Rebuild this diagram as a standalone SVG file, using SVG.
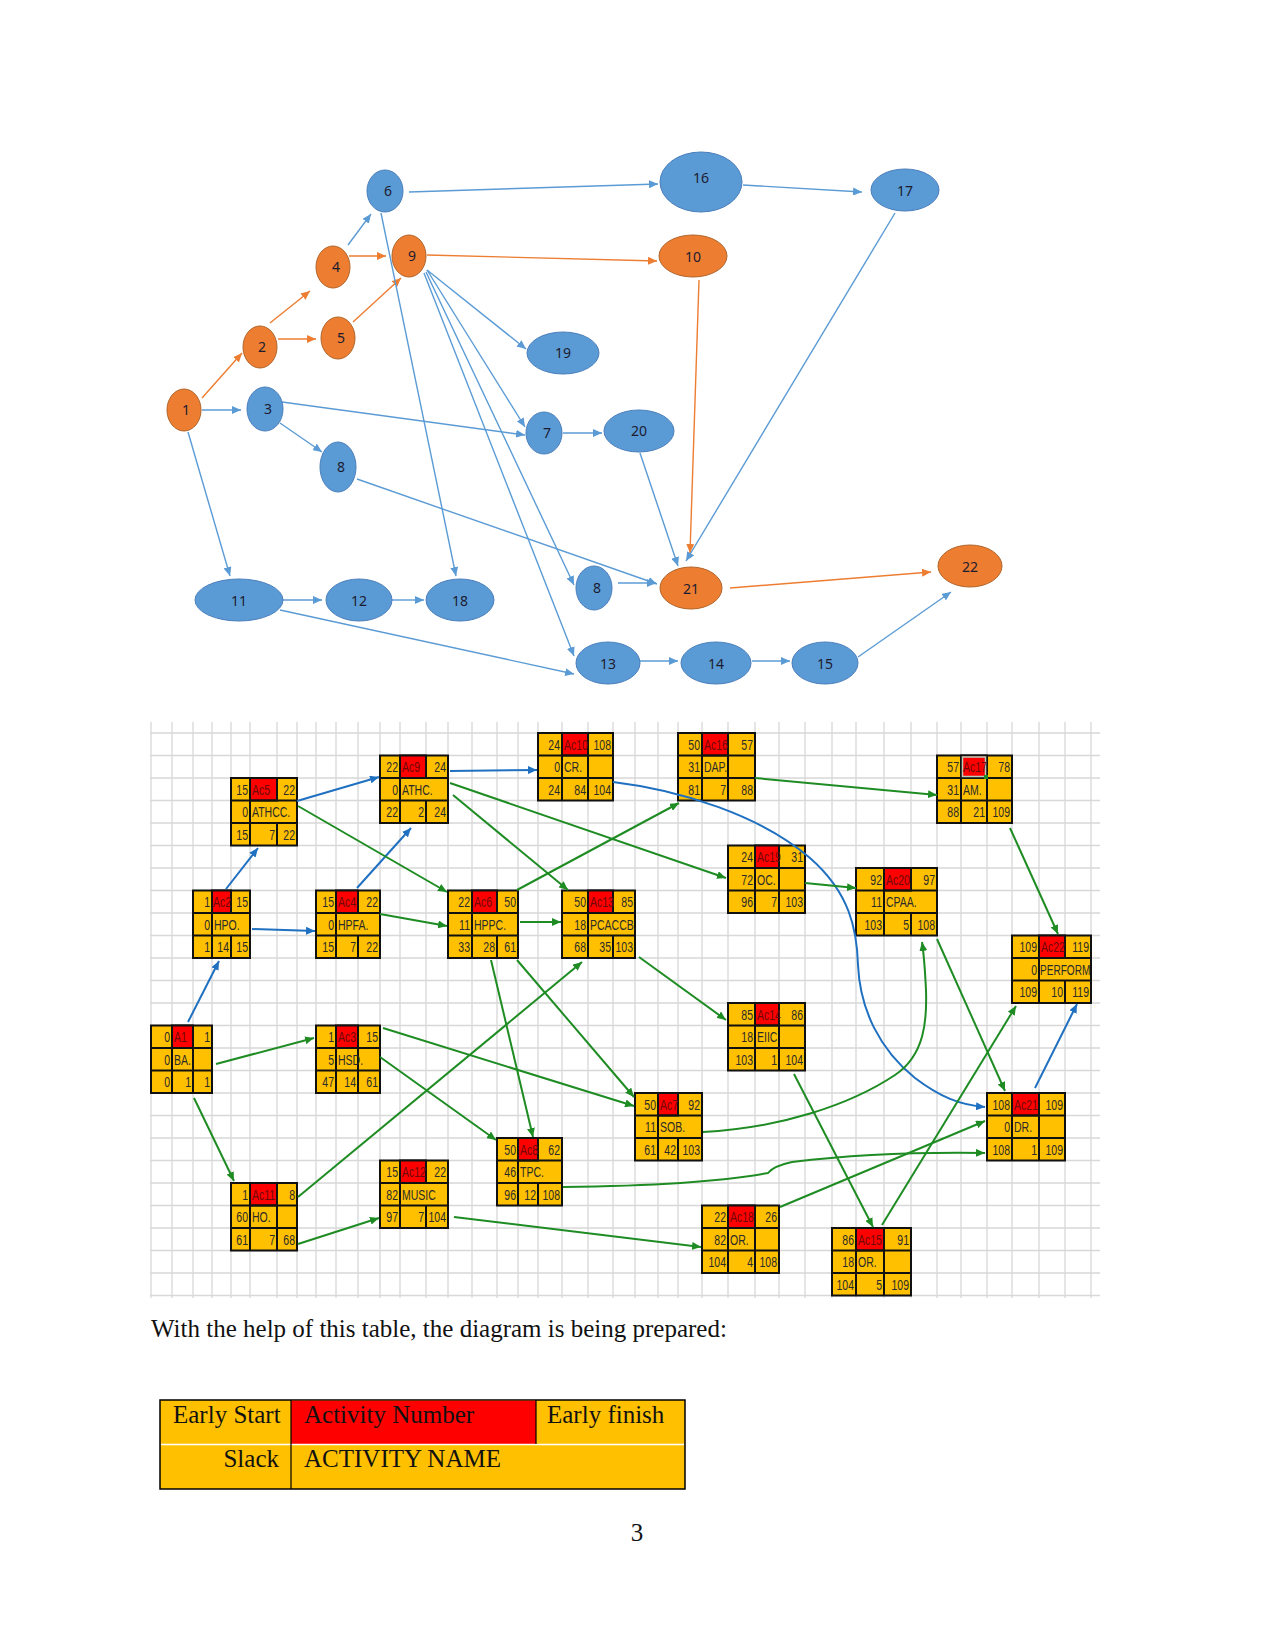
<svg xmlns="http://www.w3.org/2000/svg" width="1275" height="1651" viewBox="0 0 1275 1651">
<defs>
<style>
.nb{fill:#5B9BD5;stroke:#4A7EBB;stroke-width:1}
.no{fill:#ED7D31;stroke:#B0652A;stroke-width:1}
.nt{font-family:"Noto Sans","Liberation Sans",sans-serif;font-size:14px;fill:#1c1c30;text-anchor:middle}
.eb{stroke:#5B9BD5;stroke-width:1.4;fill:none;marker-end:url(#ab)}
.eo{stroke:#ED7D31;stroke-width:1.4;fill:none;marker-end:url(#ao)}
.grid{stroke:#d8d8d8;stroke-width:1.3;fill:none}
.c{fill:#FFC000;stroke:#111;stroke-width:2}
.r{fill:#FF0000;stroke:#111;stroke-width:2}
.bl{stroke:#111;stroke-width:2;fill:none}
.t{font-family:"Liberation Sans",sans-serif;font-size:14px;fill:#2a2a2a}
.e{text-anchor:end}
.a{fill:#6e0808}
.gb{stroke:#1F70C1;stroke-width:2;fill:none;marker-end:url(#mb)}
.gg{stroke:#1E8C23;stroke-width:2;fill:none;marker-end:url(#mg)}
.doc{font-family:"Liberation Serif",serif;font-size:25px;fill:#111}
</style>
<marker id="ab" markerUnits="userSpaceOnUse" markerWidth="10" markerHeight="8" refX="9" refY="4" orient="auto"><path d="M0,0 L9,4 L0,8 z" fill="#5B9BD5"/></marker>
<marker id="ao" markerUnits="userSpaceOnUse" markerWidth="10" markerHeight="8" refX="9" refY="4" orient="auto"><path d="M0,0 L9,4 L0,8 z" fill="#ED7D31"/></marker>
<marker id="mb" markerUnits="userSpaceOnUse" markerWidth="10" markerHeight="8" refX="9" refY="4" orient="auto"><path d="M0,0 L9,4 L0,8 z" fill="#1F70C1"/></marker>
<marker id="mg" markerUnits="userSpaceOnUse" markerWidth="10" markerHeight="8" refX="9" refY="4" orient="auto"><path d="M0,0 L9,4 L0,8 z" fill="#1E8C23"/></marker>
</defs>
<rect width="1275" height="1651" fill="#fff"/>

<g id="network-connectors">
<path class="eo" d="M202,398 L242,353"/>
<path class="eo" d="M270,323 L310,291"/>
<path class="eo" d="M278,339 L316,339"/>
<path class="eo" d="M349,256 L386,256"/>
<path class="eo" d="M353,322 L401,278"/>
<path class="eo" d="M427,255 L657,261"/>
<path class="eo" d="M699,280 L690,553"/>
<path class="eo" d="M730,588 L931,572"/>
<path class="eb" d="M348,245 L371,214"/>
<path class="eb" d="M202,410 L241,410"/>
<path class="eb" d="M409,192 L658,184"/>
<path class="eb" d="M743,185 L862,192"/>
<path class="eb" d="M381,213 L456,576"/>
<path class="eb" d="M427,270 L526,349"/>
<path class="eb" d="M427,270 L525,427"/>
<path class="eb" d="M426,272 L574,585"/>
<path class="eb" d="M424,273 L574,656"/>
<path class="eb" d="M282,402 L525,435"/>
<path class="eb" d="M280,423 L322,452"/>
<path class="eb" d="M357,479 L657,584"/>
<path class="eb" d="M563,433 L602,433"/>
<path class="eb" d="M640,453 L678,566"/>
<path class="eb" d="M895,213 L686,561"/>
<path class="eb" d="M618,583 L656,583"/>
<path class="eb" d="M188,432 L230,576"/>
<path class="eb" d="M283,600 L322,600"/>
<path class="eb" d="M392,600 L424,600"/>
<path class="eb" d="M280,610 L574,674"/>
<path class="eb" d="M640,661 L678,661"/>
<path class="eb" d="M752,661 L790,661"/>
<path class="eb" d="M858,657 L951,592"/>
</g>

<g id="n1"><ellipse class="no" cx="184" cy="410" rx="17" ry="21"/><text class="nt" x="186" y="415">1</text></g>
<g id="n2"><ellipse class="no" cx="260" cy="347" rx="17" ry="21"/><text class="nt" x="262" y="352">2</text></g>
<g id="n3"><ellipse class="nb" cx="265" cy="409" rx="18" ry="22"/><text class="nt" x="268" y="414">3</text></g>
<g id="n4"><ellipse class="no" cx="333" cy="267" rx="17" ry="21"/><text class="nt" x="336" y="272">4</text></g>
<g id="n5"><ellipse class="no" cx="338" cy="338" rx="17" ry="21"/><text class="nt" x="341" y="343">5</text></g>
<g id="n6"><ellipse class="nb" cx="385" cy="191" rx="18" ry="21"/><text class="nt" x="388" y="196">6</text></g>
<g id="n9"><ellipse class="no" cx="409" cy="256" rx="17" ry="21"/><text class="nt" x="412" y="261">9</text></g>
<g id="n8a"><ellipse class="nb" cx="338" cy="467" rx="18" ry="25"/><text class="nt" x="341" y="472">8</text></g>
<g id="n7"><ellipse class="nb" cx="544" cy="433" rx="18" ry="21"/><text class="nt" x="547" y="438">7</text></g>
<g id="n19"><ellipse class="nb" cx="563" cy="353" rx="36" ry="21"/><text class="nt" x="563" y="358">19</text></g>
<g id="n16"><ellipse class="nb" cx="701" cy="182" rx="41" ry="30"/><text class="nt" x="701" y="183">16</text></g>
<g id="n17"><ellipse class="nb" cx="905" cy="190" rx="34" ry="21"/><text class="nt" x="905" y="196">17</text></g>
<g id="n10"><ellipse class="no" cx="693" cy="256" rx="34" ry="21"/><text class="nt" x="693" y="262">10</text></g>
<g id="n20"><ellipse class="nb" cx="639" cy="431" rx="35" ry="21"/><text class="nt" x="639" y="436">20</text></g>
<g id="n11"><ellipse class="nb" cx="239" cy="600" rx="44" ry="21"/><text class="nt" x="239" y="606">11</text></g>
<g id="n12"><ellipse class="nb" cx="359" cy="600" rx="33" ry="21"/><text class="nt" x="359" y="606">12</text></g>
<g id="n18"><ellipse class="nb" cx="460" cy="600" rx="34" ry="21"/><text class="nt" x="460" y="606">18</text></g>
<g id="n8b"><ellipse class="nb" cx="594" cy="588" rx="18" ry="22"/><text class="nt" x="597" y="593">8</text></g>
<g id="n21"><ellipse class="no" cx="691" cy="588" rx="31" ry="21"/><text class="nt" x="691" y="594">21</text></g>
<g id="n22"><ellipse class="no" cx="970" cy="566" rx="32" ry="21"/><text class="nt" x="970" y="572">22</text></g>
<g id="n13"><ellipse class="nb" cx="608" cy="663" rx="32" ry="21"/><text class="nt" x="608" y="669">13</text></g>
<g id="n14"><ellipse class="nb" cx="716" cy="663" rx="35" ry="21"/><text class="nt" x="716" y="669">14</text></g>
<g id="n15"><ellipse class="nb" cx="825" cy="663" rx="33" ry="21"/><text class="nt" x="825" y="669">15</text></g>

<path class="grid" d="M150,733H1100M150,755.5H1100M150,778H1100M150,800.5H1100M150,823H1100M150,845.5H1100M150,868H1100M150,890.5H1100M150,913H1100M150,935.5H1100M150,958H1100M150,980.5H1100M150,1003H1100M150,1025.5H1100M150,1048H1100M150,1070.5H1100M150,1093H1100M150,1115.5H1100M150,1138H1100M150,1160.5H1100M150,1183H1100M150,1205.5H1100M150,1228H1100M150,1250.5H1100M150,1273H1100M150,1295.5H1100
M151,722V1298M172,722V1298M193,722V1298M212,722V1298M231,722V1298M250,722V1298M277,722V1298M297,722V1298M316,722V1298M336,722V1298M358,722V1298M380,722V1298M400,722V1298M426,722V1298M448,722V1298M472,722V1298M497,722V1298M518,722V1298M538,722V1298M562,722V1298M588,722V1298M613,722V1298M635,722V1298M658,722V1298M678,722V1298M702,722V1298M728,722V1298M755,722V1298M779,722V1298M805,722V1298M832,722V1298M856,722V1298M884,722V1298M911,722V1298M937,722V1298M961,722V1298M987,722V1298M1012,722V1298M1039,722V1298M1065,722V1298M1091,722V1298"/>

<g id="A1"><rect class="c" x="151" y="1025.5" width="61" height="67.5"/><rect class="r" x="172" y="1025.5" width="21" height="22.5"/>
<path class="bl" d="M151,1048H212M151,1070.5H212M172,1025.5V1093M193,1025.5V1093"/>
<text class="t e" transform="translate(170,1042)scale(.75,1)">0</text><text class="t a" transform="translate(174,1042)scale(.75,1)">A1</text><text class="t e" transform="translate(210,1042)scale(.75,1)">1</text>
<text class="t e" transform="translate(170,1064.5)scale(.75,1)">0</text><text class="t" transform="translate(174,1064.5)scale(.75,1)">BA.</text>
<text class="t e" transform="translate(170,1087)scale(.75,1)">0</text><text class="t e" transform="translate(191,1087)scale(.75,1)">1</text><text class="t e" transform="translate(210,1087)scale(.75,1)">1</text></g>

<g id="Ac2"><rect class="c" x="193" y="890.5" width="57" height="67.5"/><rect class="r" x="212" y="890.5" width="19" height="22.5"/>
<path class="bl" d="M193,913H250M193,935.5H250M212,890.5V958M231,890.5V913M231,935.5V958"/>
<text class="t e" transform="translate(210,907)scale(.75,1)">1</text><text class="t a" transform="translate(213,907)scale(.75,1)">Ac2</text><text class="t e" transform="translate(248,907)scale(.75,1)">15</text>
<text class="t e" transform="translate(210,929.5)scale(.75,1)">0</text><text class="t" transform="translate(214,929.5)scale(.75,1)">HPO.</text>
<text class="t e" transform="translate(210,952)scale(.75,1)">1</text><text class="t e" transform="translate(229,952)scale(.75,1)">14</text><text class="t e" transform="translate(248,952)scale(.75,1)">15</text></g>

<g id="Ac5"><rect class="c" x="231" y="778" width="66" height="67.5"/><rect class="r" x="250" y="778" width="27" height="22.5"/>
<path class="bl" d="M231,800.5H297M231,823H297M250,778V845.5M277,778V800.5M277,823V845.5"/>
<text class="t e" transform="translate(248,794.5)scale(.75,1)">15</text><text class="t a" transform="translate(252,794.5)scale(.75,1)">Ac5</text><text class="t e" transform="translate(295,794.5)scale(.75,1)">22</text>
<text class="t e" transform="translate(248,817)scale(.75,1)">0</text><text class="t" transform="translate(252,817)scale(.75,1)">ATHCC.</text>
<text class="t e" transform="translate(248,839.5)scale(.75,1)">15</text><text class="t e" transform="translate(275,839.5)scale(.75,1)">7</text><text class="t e" transform="translate(295,839.5)scale(.75,1)">22</text></g>

<g id="Ac4"><rect class="c" x="316" y="890.5" width="64" height="67.5"/><rect class="r" x="336" y="890.5" width="22" height="22.5"/>
<path class="bl" d="M316,913H380M316,935.5H380M336,890.5V958M358,890.5V913M358,935.5V958"/>
<text class="t e" transform="translate(334,907)scale(.75,1)">15</text><text class="t a" transform="translate(338,907)scale(.75,1)">Ac4</text><text class="t e" transform="translate(378,907)scale(.75,1)">22</text>
<text class="t e" transform="translate(334,929.5)scale(.75,1)">0</text><text class="t" transform="translate(338,929.5)scale(.75,1)">HPFA.</text>
<text class="t e" transform="translate(334,952)scale(.75,1)">15</text><text class="t e" transform="translate(356,952)scale(.75,1)">7</text><text class="t e" transform="translate(378,952)scale(.75,1)">22</text></g>

<g id="Ac3"><rect class="c" x="316" y="1025.5" width="64" height="67.5"/><rect class="r" x="336" y="1025.5" width="22" height="22.5"/>
<path class="bl" d="M316,1048H380M316,1070.5H380M336,1025.5V1093M358,1025.5V1093"/>
<text class="t e" transform="translate(334,1042)scale(.75,1)">1</text><text class="t a" transform="translate(338,1042)scale(.75,1)">Ac3</text><text class="t e" transform="translate(378,1042)scale(.75,1)">15</text>
<text class="t e" transform="translate(334,1064.5)scale(.75,1)">5</text><text class="t" transform="translate(338,1064.5)scale(.75,1)">HSD.</text>
<text class="t e" transform="translate(334,1087)scale(.75,1)">47</text><text class="t e" transform="translate(356,1087)scale(.75,1)">14</text><text class="t e" transform="translate(378,1087)scale(.75,1)">61</text></g>

<g id="Ac11"><rect class="c" x="231" y="1183" width="66" height="67.5"/><rect class="r" x="250" y="1183" width="27" height="22.5"/>
<path class="bl" d="M231,1205.5H297M231,1228H297M250,1183V1250.5M277,1183V1250.5"/>
<text class="t e" transform="translate(248,1199.5)scale(.75,1)">1</text><text class="t a" transform="translate(252,1199.5)scale(.75,1)">Ac11</text><text class="t e" transform="translate(295,1199.5)scale(.75,1)">8</text>
<text class="t e" transform="translate(248,1222)scale(.75,1)">60</text><text class="t" transform="translate(252,1222)scale(.75,1)">HO.</text>
<text class="t e" transform="translate(248,1244.5)scale(.75,1)">61</text><text class="t e" transform="translate(275,1244.5)scale(.75,1)">7</text><text class="t e" transform="translate(295,1244.5)scale(.75,1)">68</text></g>

<g id="Ac12"><rect class="c" x="380" y="1160.5" width="68" height="67.5"/><rect class="r" x="400" y="1160.5" width="26" height="22.5"/>
<path class="bl" d="M380,1183H448M380,1205.5H448M400,1160.5V1228M426,1160.5V1183M426,1205.5V1228"/>
<text class="t e" transform="translate(398,1177)scale(.75,1)">15</text><text class="t a" transform="translate(402,1177)scale(.75,1)">Ac12</text><text class="t e" transform="translate(446,1177)scale(.75,1)">22</text>
<text class="t e" transform="translate(398,1199.5)scale(.75,1)">82</text><text class="t" transform="translate(402,1199.5)scale(.75,1)">MUSIC</text>
<text class="t e" transform="translate(398,1222)scale(.75,1)">97</text><text class="t e" transform="translate(424,1222)scale(.75,1)">7</text><text class="t e" transform="translate(446,1222)scale(.75,1)">104</text></g>

<g id="Ac9"><rect class="c" x="380" y="755.5" width="68" height="67.5"/><rect class="r" x="400" y="755.5" width="26" height="22.5"/>
<path class="bl" d="M380,778H448M380,800.5H448M400,755.5V823M426,755.5V778M426,800.5V823"/>
<text class="t e" transform="translate(398,772)scale(.75,1)">22</text><text class="t a" transform="translate(402,772)scale(.75,1)">Ac9</text><text class="t e" transform="translate(446,772)scale(.75,1)">24</text>
<text class="t e" transform="translate(398,794.5)scale(.75,1)">0</text><text class="t" transform="translate(402,794.5)scale(.75,1)">ATHC.</text>
<text class="t e" transform="translate(398,817)scale(.75,1)">22</text><text class="t e" transform="translate(424,817)scale(.75,1)">2</text><text class="t e" transform="translate(446,817)scale(.75,1)">24</text></g>

<g id="Ac6"><rect class="c" x="448" y="890.5" width="70" height="67.5"/><rect class="r" x="472" y="890.5" width="25" height="22.5"/>
<path class="bl" d="M448,913H518M448,935.5H518M472,890.5V958M497,890.5V913M497,935.5V958"/>
<text class="t e" transform="translate(470,907)scale(.75,1)">22</text><text class="t a" transform="translate(474,907)scale(.75,1)">Ac6</text><text class="t e" transform="translate(516,907)scale(.75,1)">50</text>
<text class="t e" transform="translate(470,929.5)scale(.75,1)">11</text><text class="t" transform="translate(474,929.5)scale(.75,1)">HPPC.</text>
<text class="t e" transform="translate(470,952)scale(.75,1)">33</text><text class="t e" transform="translate(495,952)scale(.75,1)">28</text><text class="t e" transform="translate(516,952)scale(.75,1)">61</text></g>

<g id="Ac10"><rect class="c" x="538" y="733" width="75" height="67.5"/><rect class="r" x="562" y="733" width="26" height="22.5"/>
<path class="bl" d="M538,755.5H613M538,778H613M562,733V800.5M588,733V800.5"/>
<text class="t e" transform="translate(560,749.5)scale(.75,1)">24</text><text class="t a" transform="translate(564,749.5)scale(.75,1)">Ac10</text><text class="t e" transform="translate(611,749.5)scale(.75,1)">108</text>
<text class="t e" transform="translate(560,772)scale(.75,1)">0</text><text class="t" transform="translate(564,772)scale(.75,1)">CR.</text>
<text class="t e" transform="translate(560,794.5)scale(.75,1)">24</text><text class="t e" transform="translate(586,794.5)scale(.75,1)">84</text><text class="t e" transform="translate(611,794.5)scale(.75,1)">104</text></g>

<g id="Ac13"><rect class="c" x="562" y="890.5" width="73" height="67.5"/><rect class="r" x="588" y="890.5" width="25" height="22.5"/>
<path class="bl" d="M562,913H635M562,935.5H635M588,890.5V958M613,890.5V913M613,935.5V958"/>
<text class="t e" transform="translate(586,907)scale(.75,1)">50</text><text class="t a" transform="translate(590,907)scale(.75,1)">Ac13</text><text class="t e" transform="translate(633,907)scale(.75,1)">85</text>
<text class="t e" transform="translate(586,929.5)scale(.75,1)">18</text><text class="t" transform="translate(590,929.5)scale(.75,1)">PCACCB.</text>
<text class="t e" transform="translate(586,952)scale(.75,1)">68</text><text class="t e" transform="translate(611,952)scale(.75,1)">35</text><text class="t e" transform="translate(633,952)scale(.75,1)">103</text></g>

<g id="Ac8"><rect class="c" x="497" y="1138" width="65" height="67.5"/><rect class="r" x="518" y="1138" width="20" height="22.5"/>
<path class="bl" d="M497,1160.5H562M497,1183H562M518,1138V1205.5M538,1138V1160.5M538,1183V1205.5"/>
<text class="t e" transform="translate(516,1154.5)scale(.75,1)">50</text><text class="t a" transform="translate(520,1154.5)scale(.75,1)">Ac8</text><text class="t e" transform="translate(560,1154.5)scale(.75,1)">62</text>
<text class="t e" transform="translate(516,1177)scale(.75,1)">46</text><text class="t" transform="translate(520,1177)scale(.75,1)">TPC.</text>
<text class="t e" transform="translate(516,1199.5)scale(.75,1)">96</text><text class="t e" transform="translate(536,1199.5)scale(.75,1)">12</text><text class="t e" transform="translate(560,1199.5)scale(.75,1)">108</text></g>

<g id="Ac7"><rect class="c" x="635" y="1093" width="67" height="67.5"/><rect class="r" x="658" y="1093" width="20" height="22.5"/>
<path class="bl" d="M635,1115.5H702M635,1138H702M658,1093V1160.5M678,1093V1115.5M678,1138V1160.5"/>
<text class="t e" transform="translate(656,1109.5)scale(.75,1)">50</text><text class="t a" transform="translate(660,1109.5)scale(.75,1)">Ac7</text><text class="t e" transform="translate(700,1109.5)scale(.75,1)">92</text>
<text class="t e" transform="translate(656,1132)scale(.75,1)">11</text><text class="t" transform="translate(660,1132)scale(.75,1)">SOB.</text>
<text class="t e" transform="translate(656,1154.5)scale(.75,1)">61</text><text class="t e" transform="translate(676,1154.5)scale(.75,1)">42</text><text class="t e" transform="translate(700,1154.5)scale(.75,1)">103</text></g>

<g id="Ac16"><rect class="c" x="678" y="733" width="77" height="67.5"/><rect class="r" x="702" y="733" width="26" height="22.5"/>
<path class="bl" d="M678,755.5H755M678,778H755M702,733V800.5M728,733V800.5"/>
<text class="t e" transform="translate(700,749.5)scale(.75,1)">50</text><text class="t a" transform="translate(704,749.5)scale(.75,1)">Ac16</text><text class="t e" transform="translate(753,749.5)scale(.75,1)">57</text>
<text class="t e" transform="translate(700,772)scale(.75,1)">31</text><text class="t" transform="translate(704,772)scale(.75,1)">DAP.</text>
<text class="t e" transform="translate(700,794.5)scale(.75,1)">81</text><text class="t e" transform="translate(726,794.5)scale(.75,1)">7</text><text class="t e" transform="translate(753,794.5)scale(.75,1)">88</text></g>

<g id="Ac19"><rect class="c" x="728" y="845.5" width="77" height="67.5"/><rect class="r" x="755" y="845.5" width="24" height="22.5"/>
<path class="bl" d="M728,868H805M728,890.5H805M755,845.5V913M779,845.5V913"/>
<text class="t e" transform="translate(753,862)scale(.75,1)">24</text><text class="t a" transform="translate(757,862)scale(.75,1)">Ac19</text><text class="t e" transform="translate(803,862)scale(.75,1)">31</text>
<text class="t e" transform="translate(753,884.5)scale(.75,1)">72</text><text class="t" transform="translate(757,884.5)scale(.75,1)">OC.</text>
<text class="t e" transform="translate(753,907)scale(.75,1)">96</text><text class="t e" transform="translate(777,907)scale(.75,1)">7</text><text class="t e" transform="translate(803,907)scale(.75,1)">103</text></g>

<g id="Ac14"><rect class="c" x="728" y="1003" width="77" height="67.5"/><rect class="r" x="755" y="1003" width="24" height="22.5"/>
<path class="bl" d="M728,1025.5H805M728,1048H805M755,1003V1070.5M779,1003V1070.5"/>
<text class="t e" transform="translate(753,1019.5)scale(.75,1)">85</text><text class="t a" transform="translate(757,1019.5)scale(.75,1)">Ac14</text><text class="t e" transform="translate(803,1019.5)scale(.75,1)">86</text>
<text class="t e" transform="translate(753,1042)scale(.75,1)">18</text><text class="t" transform="translate(757,1042)scale(.75,1)">EIIC</text>
<text class="t e" transform="translate(753,1064.5)scale(.75,1)">103</text><text class="t e" transform="translate(777,1064.5)scale(.75,1)">1</text><text class="t e" transform="translate(803,1064.5)scale(.75,1)">104</text></g>

<g id="Ac18"><rect class="c" x="702" y="1205.5" width="77" height="67.5"/><rect class="r" x="728" y="1205.5" width="27" height="22.5"/>
<path class="bl" d="M702,1228H779M702,1250.5H779M728,1205.5V1273M755,1205.5V1273"/>
<text class="t e" transform="translate(726,1222)scale(.75,1)">22</text><text class="t a" transform="translate(730,1222)scale(.75,1)">Ac18</text><text class="t e" transform="translate(777,1222)scale(.75,1)">26</text>
<text class="t e" transform="translate(726,1244.5)scale(.75,1)">82</text><text class="t" transform="translate(730,1244.5)scale(.75,1)">OR.</text>
<text class="t e" transform="translate(726,1267)scale(.75,1)">104</text><text class="t e" transform="translate(753,1267)scale(.75,1)">4</text><text class="t e" transform="translate(777,1267)scale(.75,1)">108</text></g>

<g id="Ac20"><rect class="c" x="856" y="868" width="81" height="67.5"/><rect class="r" x="884" y="868" width="27" height="22.5"/>
<path class="bl" d="M856,890.5H937M856,913H937M884,868V935.5M911,868V890.5M911,913V935.5"/>
<text class="t e" transform="translate(882,884.5)scale(.75,1)">92</text><text class="t a" transform="translate(886,884.5)scale(.75,1)">Ac20</text><text class="t e" transform="translate(935,884.5)scale(.75,1)">97</text>
<text class="t e" transform="translate(882,907)scale(.75,1)">11</text><text class="t" transform="translate(886,907)scale(.75,1)">CPAA.</text>
<text class="t e" transform="translate(882,929.5)scale(.75,1)">103</text><text class="t e" transform="translate(909,929.5)scale(.75,1)">5</text><text class="t e" transform="translate(935,929.5)scale(.75,1)">108</text></g>

<g id="Ac17"><rect class="c" x="937" y="755.5" width="75" height="67.5"/><rect class="r" x="961" y="755.5" width="26" height="22.5"/>
<path class="bl" d="M937,778H1012M937,800.5H1012M961,755.5V823M987,755.5V823"/>
<rect x="962.5" y="757" width="23" height="19.5" fill="none" stroke="#b9cdb9" stroke-width="1.5"/><rect x="984" y="775" width="4" height="4" fill="#1E8C23"/>
<text class="t e" transform="translate(959,772)scale(.75,1)">57</text><text class="t a" transform="translate(963,772)scale(.75,1)">Ac17</text><text class="t e" transform="translate(1010,772)scale(.75,1)">78</text>
<text class="t e" transform="translate(959,794.5)scale(.75,1)">31</text><text class="t" transform="translate(963,794.5)scale(.75,1)">AM.</text>
<text class="t e" transform="translate(959,817)scale(.75,1)">88</text><text class="t e" transform="translate(985,817)scale(.75,1)">21</text><text class="t e" transform="translate(1010,817)scale(.75,1)">109</text></g>

<g id="Ac22"><rect class="c" x="1012" y="935.5" width="79" height="67.5"/><rect class="r" x="1039" y="935.5" width="26" height="22.5"/>
<path class="bl" d="M1012,958H1091M1012,980.5H1091M1039,935.5V1003M1065,935.5V958M1065,980.5V1003"/>
<text class="t e" transform="translate(1037,952)scale(.75,1)">109</text><text class="t a" transform="translate(1041,952)scale(.75,1)">Ac22</text><text class="t e" transform="translate(1089,952)scale(.75,1)">119</text>
<text class="t e" transform="translate(1037,974.5)scale(.75,1)">0</text><text class="t" transform="translate(1040,974.5)scale(.72,1)">PERFORM</text>
<text class="t e" transform="translate(1037,997)scale(.75,1)">109</text><text class="t e" transform="translate(1063,997)scale(.75,1)">10</text><text class="t e" transform="translate(1089,997)scale(.75,1)">119</text></g>

<g id="Ac21"><rect class="c" x="987" y="1093" width="78" height="67.5"/><rect class="r" x="1012" y="1093" width="27" height="22.5"/>
<path class="bl" d="M987,1115.5H1065M987,1138H1065M1012,1093V1160.5M1039,1093V1160.5"/>
<text class="t e" transform="translate(1010,1109.5)scale(.75,1)">108</text><text class="t a" transform="translate(1014,1109.5)scale(.75,1)">Ac21</text><text class="t e" transform="translate(1063,1109.5)scale(.75,1)">109</text>
<text class="t e" transform="translate(1010,1132)scale(.75,1)">0</text><text class="t" transform="translate(1014,1132)scale(.75,1)">DR.</text>
<text class="t e" transform="translate(1010,1154.5)scale(.75,1)">108</text><text class="t e" transform="translate(1037,1154.5)scale(.75,1)">1</text><text class="t e" transform="translate(1063,1154.5)scale(.75,1)">109</text></g>

<g id="Ac15"><rect class="c" x="832" y="1228" width="79" height="67.5"/><rect class="r" x="856" y="1228" width="28" height="22.5"/>
<path class="bl" d="M832,1250.5H911M832,1273H911M856,1228V1295.5M884,1228V1295.5"/>
<text class="t e" transform="translate(854,1244.5)scale(.75,1)">86</text><text class="t a" transform="translate(858,1244.5)scale(.75,1)">Ac15</text><text class="t e" transform="translate(909,1244.5)scale(.75,1)">91</text>
<text class="t e" transform="translate(854,1267)scale(.75,1)">18</text><text class="t" transform="translate(858,1267)scale(.75,1)">OR.</text>
<text class="t e" transform="translate(854,1289.5)scale(.75,1)">104</text><text class="t e" transform="translate(882,1289.5)scale(.75,1)">5</text><text class="t e" transform="translate(909,1289.5)scale(.75,1)">109</text></g>

<g id="grid-connectors">
<path class="gb" d="M188,1022 L219,961"/>
<path class="gb" d="M226,889 L258,848"/>
<path class="gb" d="M252,929 L315,931"/>
<path class="gb" d="M357,888 L411,828"/>
<path class="gb" d="M297,801 L379,777"/>
<path class="gb" d="M450,771 L537,770"/>
<path class="gb" d="M613,782 C680,790 760,815 810,858 C850,893 857,930 858,965 C860,1010 880,1050 915,1078 C940,1097 960,1105 985,1107"/>
<path class="gb" d="M1035,1088 L1077,1004"/>
<path class="gg" d="M216,1064 L314,1038"/>
<path class="gg" d="M194,1098 L234,1181"/>
<path class="gg" d="M298,1197 L582,962"/>
<path class="gg" d="M298,1244 L379,1218"/>
<path class="gg" d="M454,1217 L701,1247"/>
<path class="gg" d="M383,1028 L634,1106"/>
<path class="gg" d="M380,1057 L496,1140"/>
<path class="gg" d="M298,806 L447,892"/>
<path class="gg" d="M380,914 L447,926"/>
<path class="gg" d="M520,922 L561,922"/>
<path class="gg" d="M517,890 L679,803"/>
<path class="gg" d="M491,960 L533,1137"/>
<path class="gg" d="M517,960 L634,1097"/>
<path class="gg" d="M453,795 L568,890"/>
<path class="gg" d="M450,783 L726,878"/>
<path class="gg" d="M755,778 L937,795"/>
<path class="gg" d="M805,883 L856,888"/>
<path class="gg" d="M1010,828 L1058,934"/>
<path class="gg" d="M937,939 L1005,1091"/>
<path class="gg" d="M639,957 L726,1020"/>
<path class="gg" d="M794,1074 L873,1227"/>
<path class="gg" d="M882,1225 L1016,1006"/>
<path class="gg" d="M780,1207 L985,1121"/>
<path class="gg" d="M563,1187 C650,1186 720,1182 768,1173 C772,1168 778,1165 792,1162 C850,1155 920,1152 985,1153"/>
<path class="gg" d="M703,1132 C780,1128 850,1105 895,1075 C925,1055 927,1020 926,990 C925,970 924,955 922,942"/>
</g>

<text class="doc" x="151" y="1337">With the help of this table, the diagram is being prepared:</text>
<g id="legend">
<rect x="160" y="1400" width="525" height="89" fill="#FFC000" stroke="#000" stroke-width="1.5"/>
<rect x="291" y="1400.75" width="245" height="43.5" fill="#FF0000"/>
<path d="M161,1444.5H684" stroke="#fff" stroke-width="1.5"/>
<path d="M291,1400V1489M536,1400V1444" stroke="#000" stroke-width="1.2"/>
<text class="doc" x="173" y="1423">Early Start</text>
<text class="doc" x="304" y="1423">Activity Number</text>
<text class="doc" x="547" y="1423">Early finish</text>
<text class="doc" x="279" y="1467" text-anchor="end">Slack</text>
<text class="doc" x="304" y="1467">ACTIVITY NAME</text>
</g>
<text class="doc" x="637" y="1541" text-anchor="middle">3</text>
</svg>
